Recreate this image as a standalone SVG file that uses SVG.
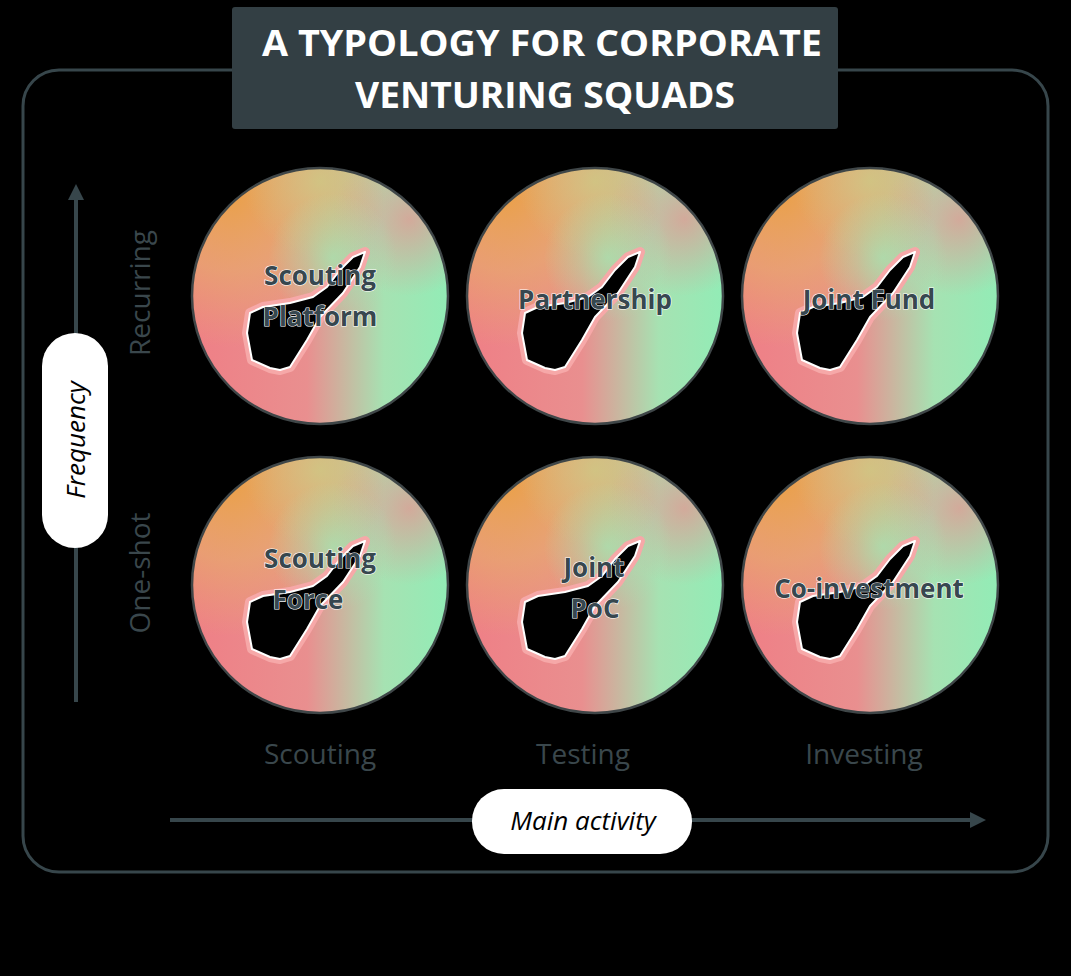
<svg xmlns="http://www.w3.org/2000/svg" width="1071" height="976" viewBox="0 0 1071 976">
<defs>
<linearGradient id="g1" x1="0" y1="0" x2="1" y2="0">
<stop offset="0" stop-color="#ef7f86"/>
<stop offset="0.45" stop-color="#e98f8f"/>
<stop offset="0.75" stop-color="#a6e2b2"/>
<stop offset="1" stop-color="#92ecb6"/>
</linearGradient>
<radialGradient id="g2" cx="0.15" cy="0.1" r="0.6">
<stop offset="0" stop-color="#eaa048" stop-opacity="1"/>
<stop offset="0.5" stop-color="#e6b066" stop-opacity="0.6"/>
<stop offset="1" stop-color="#e6b066" stop-opacity="0"/>
</radialGradient>
<radialGradient id="g5" cx="0.5" cy="0.05" r="0.3">
<stop offset="0" stop-color="#cdca84" stop-opacity="0.8"/>
<stop offset="1" stop-color="#cdca84" stop-opacity="0"/>
</radialGradient>
<radialGradient id="g3" cx="0.85" cy="0.2" r="0.3">
<stop offset="0" stop-color="#e99090" stop-opacity="0.7"/>
<stop offset="1" stop-color="#e99090" stop-opacity="0"/>
</radialGradient>
<radialGradient id="g4" cx="0.55" cy="0.35" r="0.25">
<stop offset="0" stop-color="#9eecb6" stop-opacity="0.7"/>
<stop offset="1" stop-color="#9eecb6" stop-opacity="0"/>
</radialGradient>
<marker id="ah" viewBox="0 0 10 10" refX="5" refY="5" markerWidth="4" markerHeight="4" orient="auto">
<path d="M0,0 L10,5 L0,10 Z" fill="#37464b"/>
</marker>
<path id="blob" d="M45,-44 L33,-39 L20,-26 L7,-9 L-7,1 L-30,7 L-57,11 L-70,17 L-73,37 L-68,64 L-50,72 L-40,74 L-30,71 L-13,44 L0,21 L23,-3 L40,-29 Z"/>
<g id="disc">
<circle r="128" fill="url(#g1)"/>
<circle r="128" fill="url(#g2)"/>
<circle r="128" fill="url(#g5)"/>
<circle r="128" fill="url(#g3)"/>
<circle r="128" fill="url(#g4)"/>
<use href="#blob" fill="#f49a9a" stroke="#f6a8a8" stroke-width="10" stroke-linejoin="round"/>
<use href="#blob" fill="#000" stroke="#fff" stroke-width="2" stroke-linejoin="round"/>
<circle r="128" fill="none" stroke="#3f4648" stroke-width="2.5"/>
</g>
</defs>
<style>
.lbl{font-family:"Open Sans",sans-serif;font-weight:700;font-size:26px;fill:#37474f;stroke:#ffffff;stroke-width:1.2;paint-order:stroke;text-anchor:middle}
.axl{font-family:"Open Sans",sans-serif;font-size:28px;fill:#3a474c;text-anchor:middle}
.pill{fill:#ffffff}
.pt{font-family:"Open Sans",sans-serif;font-style:italic;font-size:26px;fill:#000;text-anchor:middle}
.ax{stroke:#37464b;stroke-width:4;fill:none}
</style>
<rect width="1071" height="976" fill="#000"/>
<rect x="23" y="70" width="1025" height="802" rx="36" fill="none" stroke="#37464b" stroke-width="3"/>
<g id="title">
<rect x="232" y="7" width="606" height="122" rx="3" fill="#333f44"/>
<text x="542" y="56" font-family="Open Sans, sans-serif" font-weight="700" font-size="36" fill="#fff" text-anchor="middle" textLength="560" lengthAdjust="spacingAndGlyphs">A TYPOLOGY FOR CORPORATE</text>
<text x="545" y="108" font-family="Open Sans, sans-serif" font-weight="700" font-size="36" fill="#fff" text-anchor="middle" textLength="380" lengthAdjust="spacingAndGlyphs">VENTURING SQUADS</text>
</g>
<g id="connectors">
<line class="ax" x1="76" y1="702" x2="76" y2="192" marker-end="url(#ah)"/>
<line class="ax" x1="170" y1="820" x2="978" y2="820" marker-end="url(#ah)"/>
</g>
<g id="freq">
<rect class="pill" x="42" y="333" width="66" height="215" rx="33"/>
<text class="pt" transform="translate(85,440) rotate(-90)">Frequency</text>
</g>
<g id="main">
<rect class="pill" x="472" y="789" width="220" height="65" rx="32"/>
<text class="pt" x="583" y="830">Main activity</text>
</g>
<text class="axl" transform="translate(150,293) rotate(-90)">Recurring</text>
<text class="axl" transform="translate(150,573) rotate(-90)">One-shot</text>
<text class="axl" x="320" y="764">Scouting</text>
<text class="axl" x="583" y="764">Testing</text>
<text class="axl" x="864" y="764">Investing</text>
<g id="n1"><use href="#disc" x="320" y="296"/><text class="lbl" x="320" y="285">Scouting</text><text class="lbl" x="320" y="326">Platform</text></g>
<g id="n2"><use href="#disc" x="595" y="296"/><text class="lbl" x="595" y="309">Partnership</text></g>
<g id="n3"><use href="#disc" x="870" y="296"/><text class="lbl" x="869" y="309">Joint Fund</text></g>
<g id="n4"><use href="#disc" x="320" y="585"/><text class="lbl" x="320" y="568">Scouting</text><text class="lbl" x="308" y="609">Force</text></g>
<g id="n5"><use href="#disc" x="595" y="585"/><text class="lbl" x="594" y="577">Joint</text><text class="lbl" x="595" y="618">PoC</text></g>
<g id="n6"><use href="#disc" x="870" y="585"/><text class="lbl" x="869" y="598">Co-investment</text></g>
</svg>
